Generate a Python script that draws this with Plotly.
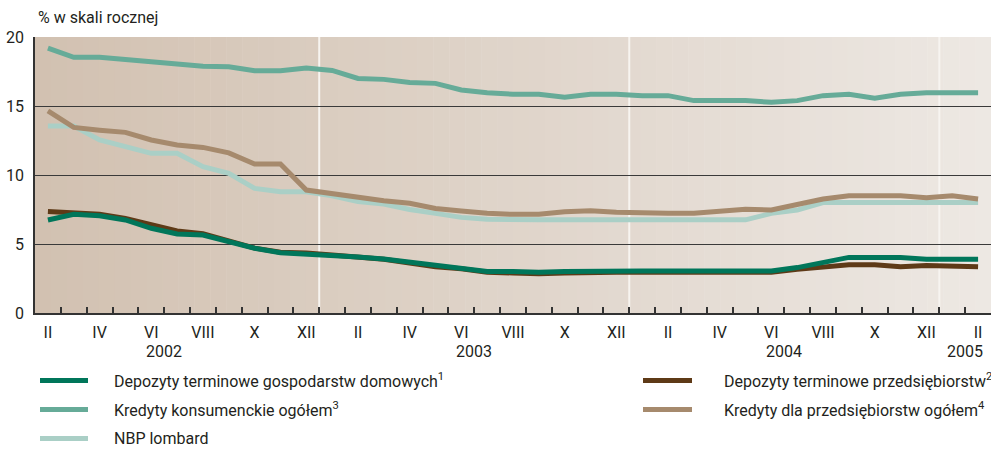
import plotly.graph_objects as go

# ---------------- data ----------------
months_idx = list(range(37))  # II 2002 ... II 2005, monthly
tick_pos = list(range(0, 37, 2))
tick_text = ["II", "IV", "VI", "VIII", "X", "XII"] * 3 + ["II"]
year_labels = ["2002", "2003", "2004", "2005"]
year_pos = [4.5, 16.5, 28.5, 35.5]
year_bounds = [10.5, 22.5, 34.5]

dep_gosp = [6.74, 7.15, 7.05, 6.74, 6.14, 5.72, 5.65, 5.17, 4.69, 4.37, 4.28,
            4.15, 4.05, 3.91, 3.67, 3.40, 3.24, 3.00, 3.00, 2.95, 3.00, 3.04, 3.04,
            3.05, 3.05, 3.05, 3.05, 3.05, 3.05, 3.29, 3.67, 4.03, 4.03, 4.03, 3.89,
            3.89, 3.89]
dep_przeds = [7.35, 7.28, 7.15, 6.86, 6.38, 5.94, 5.75, 5.20, 4.70, 4.40, 4.35,
              4.20, 4.05, 3.90, 3.62, 3.35, 3.20, 2.95, 2.90, 2.85, 2.90, 2.95, 2.95,
              2.95, 2.95, 2.95, 2.95, 2.95, 2.95, 3.16, 3.31, 3.50, 3.50, 3.35, 3.45,
              3.45, 3.36]
kred_kons = [19.20, 18.53, 18.53, 18.33, 18.20, 18.04, 17.88, 17.85, 17.55, 17.55, 17.75,
             17.58, 17.00, 16.93, 16.70, 16.64, 16.16, 15.96, 15.85, 15.85, 15.63, 15.85, 15.85,
             15.75, 15.75, 15.39, 15.39, 15.39, 15.27, 15.39, 15.75, 15.85, 15.56, 15.85, 15.96,
             15.96, 15.96]
kred_przeds = [14.64, 13.45, 13.25, 13.09, 12.54, 12.17, 12.00, 11.60, 10.80, 10.80, 8.91,
               8.65, 8.31, 8.14, 7.95, 7.58, 7.39, 7.22, 7.15, 7.15, 7.34, 7.41, 7.30,
               7.22, 7.22, 7.22, 7.39, 7.51, 7.46, 7.83, 8.26, 8.50, 8.50, 8.50, 8.36,
               8.50, 8.26]
lombard = [13.55, 13.55, 12.54, 12.05, 11.57, 11.57, 10.60, 10.12, 9.03, 8.79, 8.79,
           8.50, 8.07, 7.90, 7.50, 7.22, 6.93, 6.80, 6.75, 6.75, 6.75, 6.75, 6.75,
           6.75, 6.75, 6.75, 6.75, 6.75, 7.22, 7.46, 8.00, 8.00, 8.00, 8.00, 8.00,
           8.00, 8.00]

series = [
    ("NBP lombard", lombard, "#aacfc6"),
    ("Kredyty dla przedsiębiorstw ogółem<sup>4</sup>", kred_przeds, "#a68a6d"),
    ("Kredyty konsumenckie ogółem<sup>3</sup>", kred_kons, "#66ab98"),
    ("Depozyty terminowe przedsiębiorstw<sup>2</sup>", dep_przeds, "#5e3a17"),
    ("Depozyty terminowe gospodarstw domowych<sup>1</sup>", dep_gosp, "#00765a"),
]

FONT = "Roboto"
W, H = 991, 449
L, R, T, B = 35, 0, 37, 136
PW, PH = W - L - R, H - T - B

fig = go.Figure()
for name, vals, col in series:
    fig.add_trace(go.Scatter(x=months_idx, y=vals, mode="lines", name=name,
                             line=dict(color=col, width=5), showlegend=False,
                             hoverinfo="skip"))

shapes = []
# background gradient strips
n = 60
x0, x1 = -0.5, 36.5
c0, c1 = (210, 193, 177), (237, 232, 227)
for i in range(n):
    t = i / (n - 1)
    col = tuple(round(c0[k] + (c1[k] - c0[k]) * t) for k in range(3))
    shapes.append(dict(type="rect", xref="x", yref="y", layer="below",
                       x0=x0 + (x1 - x0) * i / n, x1=x0 + (x1 - x0) * (i + 1) / n + 0.02,
                       y0=0, y1=20, line=dict(width=0),
                       fillcolor="rgb(%d,%d,%d)" % col))
for xb in year_bounds:
    shapes.append(dict(type="line", xref="x", yref="y", layer="below",
                       x0=xb, x1=xb, y0=0, y1=20,
                       line=dict(color="#f7f4f0", width=2)))


def px2x(px):
    return (px - L) / PW


def px2y(py):
    return (H - B - py) / PH


annotations = []
# legend (manual)
legend_rows = [
    (40, 88, 112, 380.5, series[4]),
    (40, 88, 112, 409.5, series[2]),
    (40, 88, 112, 438.5, series[0]),
    (643, 692, 722, 380.5, series[3]),
    (643, 692, 722, 409.5, series[1]),
]
for lx0, lx1, tx, ly, (name, _, col) in legend_rows:
    shapes.append(dict(type="line", xref="paper", yref="paper",
                       x0=px2x(lx0), x1=px2x(lx1), y0=px2y(ly), y1=px2y(ly),
                       line=dict(color=col, width=5)))
    annotations.append(dict(text=name, xref="paper", yref="paper",
                            x=px2x(tx), y=px2y(ly), xanchor="left", yanchor="middle",
                            showarrow=False, font=dict(family=FONT, size=16, color="#231f20")))

for yl, yp in zip(year_labels, year_pos):
    annotations.append(dict(text=yl, xref="x", yref="paper", x=yp, y=px2y(351),
                            xanchor="center", yanchor="middle", showarrow=False,
                            font=dict(family=FONT, size=16, color="#231f20")))

annotations.append(dict(text="% w skali rocznej", xref="paper", yref="paper",
                        x=px2x(36), y=px2y(18), xanchor="left", yanchor="middle",
                        showarrow=False, font=dict(family=FONT, size=16, color="#231f20")))

fig.update_layout(
    width=W, height=H,
    margin=dict(l=L, r=R, t=T, b=B, pad=0),
    paper_bgcolor="white", plot_bgcolor="rgba(0,0,0,0)",
    shapes=shapes, annotations=annotations,
    font=dict(family=FONT, size=16, color="#231f20"),
    xaxis=dict(range=[x0, x1], tickmode="array", tickvals=tick_pos, ticktext=tick_text,
               ticks="", showgrid=False, zeroline=False, showline=True,
               linecolor="#333333", linewidth=1.5, ticklabelstandoff=4,
               minor=dict(tickmode="array", tickvals=[v + 0.5 for v in range(36)],
                          ticks="inside", ticklen=6, tickwidth=1.5, tickcolor="#333333",
                          showgrid=False),
               tickfont=dict(family=FONT, size=16, color="#231f20")),
    yaxis=dict(range=[0, 20], tickvals=[0, 5, 10, 15, 20], ticks="", showgrid=True,
               gridcolor="#3a3a3a", gridwidth=1, zeroline=False, showline=True,
               linecolor="#333333", linewidth=1.5, ticklabelstandoff=6,
               tickfont=dict(family=FONT, size=16, color="#231f20")),
)

fig.write_html("out.html", config={"displayModeBar": False})

# remove the browser's default page margin so the figure sits at (0, 0)
with open("out.html", "r", encoding="utf-8") as f:
    html = f.read()
html = html.replace("<head>", "<head><style>html,body{margin:0;padding:0;overflow:hidden}</style>", 1)
with open("out.html", "w", encoding="utf-8") as f:
    f.write(html)
